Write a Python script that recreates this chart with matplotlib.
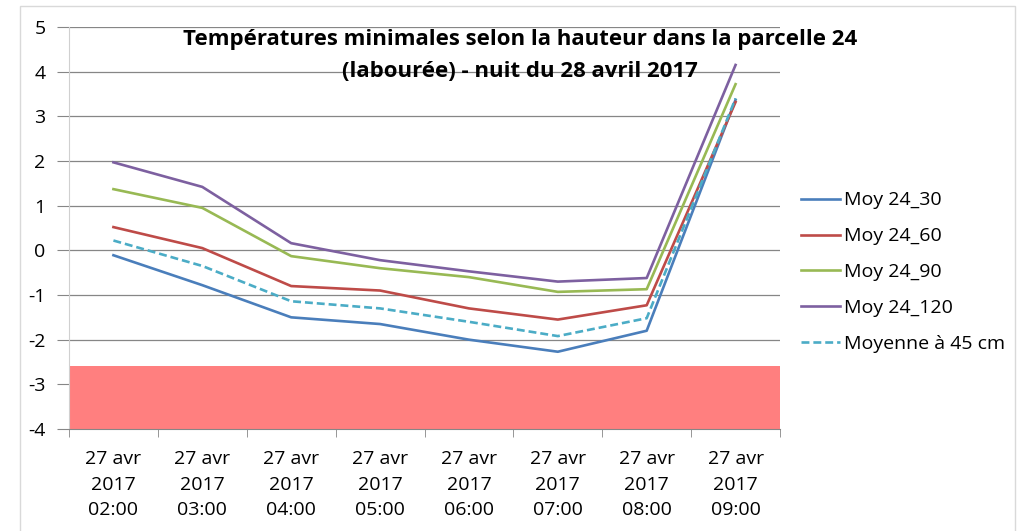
"""Températures minimales selon la hauteur - parcelle 24."""

import matplotlib

matplotlib.use("Agg")
import matplotlib.pyplot as plt  # noqa: E402
import numpy as np  # noqa: E402
from matplotlib.patches import Rectangle  # noqa: E402

plt.rcParams["font.family"] = ["Open Sans", "DejaVu Sans"]

# ── Data ─────────────────────────────────────────────────────────────────────

HOURS = ["02:00", "03:00", "04:00", "05:00", "06:00", "07:00", "08:00", "09:00"]
TICK_LABELS = [f"27 avr\n2017\n{h}" for h in HOURS]

MOY_30 = [-0.11, -0.78, -1.50, -1.65, -2.00, -2.27, -1.80, 3.37]
MOY_60 = [0.52, 0.05, -0.80, -0.90, -1.30, -1.55, -1.23, 3.32]
MOY_90 = [1.37, 0.95, -0.13, -0.40, -0.60, -0.93, -0.87, 3.72]
MOY_120 = [1.97, 1.42, 0.16, -0.22, -0.47, -0.70, -0.62, 4.15]
MOY_45 = [0.22, -0.35, -1.14, -1.30, -1.60, -1.92, -1.52, 3.40]

FROST_BAND = (-4.0, -2.58)

SERIES = [
    ("Moy 24_30", MOY_30, "#4a7ebb", "-"),
    ("Moy 24_60", MOY_60, "#be4b48", "-"),
    ("Moy 24_90", MOY_90, "#98b954", "-"),
    ("Moy 24_120", MOY_120, "#7d60a0", "-"),
    ("Moyenne à 45 cm", MOY_45, "#4bacc6", "--"),
]

# ── Chart ────────────────────────────────────────────────────────────────────

fig = plt.figure(figsize=(10.25, 5.31), dpi=100)
fig.patches.append(
    Rectangle((20 / 1025, -0.01), 995 / 1025, 1 - 6 / 531 + 0.01,
              transform=fig.transFigure, fill=False, edgecolor="#d9d9d9", linewidth=1)
)
ax = fig.add_axes([69 / 1025, 1 - 429 / 531, 711 / 1025, 402 / 531])

x = np.arange(len(HOURS))
ax.axhspan(*FROST_BAND, color="#ff7f7f", linewidth=0, zorder=1)

for label, vals, color, ls in SERIES:
    ax.plot(x, vals, color=color, linestyle=ls, linewidth=1.9, label=label, zorder=3,
            dashes=(3, 1.5) if ls == "--" else (None, None))

ax.set_xlim(-0.5, len(HOURS) - 0.5)
ax.set_ylim(-4, 5)
ax.set_yticks(np.arange(-4, 6, 1))
ax.set_yticklabels([str(v) for v in range(-4, 6)], fontsize=14)
ax.set_xticks(x)
ax.set_xticklabels(TICK_LABELS, fontsize=14, linespacing=1.55)
ax.set_xticks(np.arange(-0.5, len(HOURS), 1), minor=True)
ax.tick_params(axis="x", which="major", length=0, pad=15)
ax.tick_params(axis="x", which="minor", length=6, color="#868686")
ax.tick_params(axis="y", length=9, color="#868686", pad=8)

ax.grid(axis="y", color="#868686", linewidth=0.9, zorder=0)
ax.set_axisbelow(True)
for side in ["top", "right"]:
    ax.spines[side].set_visible(False)
ax.spines["left"].set_color("#d0d0d0")
ax.spines["bottom"].set_color("#868686")

fig.text(0.507, 0.945, "Températures minimales selon la hauteur dans la parcelle 24\n"
         "(labourée) - nuit du 28 avril 2017",
         ha="center", va="top", fontsize=16, fontweight="bold", linespacing=1.7)

ax.legend(loc="center left", bbox_to_anchor=(1.005, 0.39), frameon=False, fontsize=14,
          handlelength=2.0, handletextpad=0.2, labelspacing=0.92)

fig.savefig("out.png", dpi=100)
plt.close(fig)
